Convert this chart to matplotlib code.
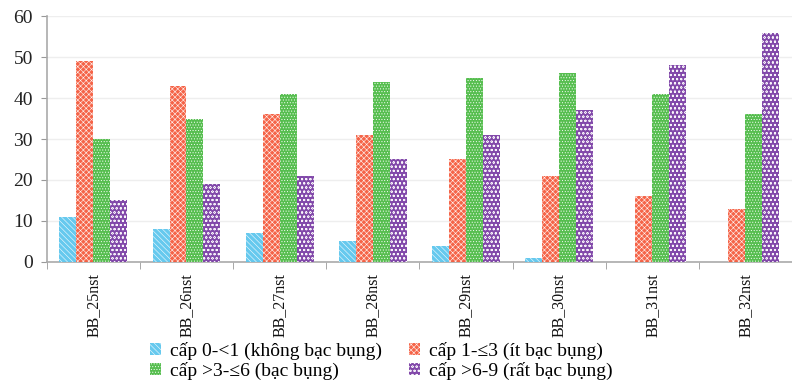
import matplotlib
matplotlib.use("Agg")
import matplotlib.pyplot as plt
import numpy as np

categories = ["BB_25nst", "BB_26nst", "BB_27nst", "BB_28nst", "BB_29nst", "BB_30nst", "BB_31nst", "BB_32nst"]
series_names = ["cấp 0-<1 (không bạc bụng)", "cấp 1-≤3 (ít bạc bụng)", "cấp >3-≤6 (bạc bụng)", "cấp >6-9 (rất bạc bụng)"]
cap0 = [11, 8, 7, 5, 4, 1, 0, 0]
cap1 = [49, 43, 36, 31, 25, 21, 16, 13]
cap3 = [30, 35, 41, 44, 45, 46, 41, 36]
cap6 = [15, 19, 21, 25, 31, 37, 48, 56]
yticks = [0, 10, 20, 30, 40, 50, 60]

colors = ["#5ec6ee", "#f55c3e", "#4dbb45", "#7b3fa6"]
hatches = ["\\\\\\\\\\\\", "xxxxxx", "......", "oooo"]

plt.rcParams['font.family'] = ['Liberation Serif', 'DejaVu Serif']
plt.rcParams['hatch.linewidth'] = 0.4

fig = plt.figure(figsize=(7.92, 3.84), dpi=100)
ax = fig.add_axes([0.059, 0.318, 0.941, 0.64])

x = np.arange(len(categories))
w = 0.182
data = [cap0, cap1, cap3, cap6]
handles = []
for i, (vals, c, h, name) in enumerate(zip(data, colors, hatches, series_names)):
    b = ax.bar(x + (i - 1.5) * w, vals, w, color=c, edgecolor="#ffffff", linewidth=0,
               hatch=h, label=name, zorder=3, alpha=0.95)
    handles.append(b)

ax.set_xlim(-0.5, 7.5)
ax.set_ylim(0, 60)
ax.set_yticks(yticks)
ax.set_yticklabels([str(v) for v in yticks], fontsize=14, color="#222222")
ax.set_xticks(x)
ax.set_xticklabels(categories, rotation=90, fontsize=11.5, color="#111111")
ax.tick_params(axis='x', length=0, pad=8)
ax.set_xticks(np.arange(-0.5, 8, 1), minor=True)
ax.tick_params(axis='x', which='minor', length=5, color="#999999")
ax.tick_params(axis='y', length=4, color="#999999", pad=6)

ax.grid(axis='y', color="#eeeeee", linewidth=1, zorder=0)
for s in ["top", "right"]:
    ax.spines[s].set_visible(False)
for s in ["left", "bottom"]:
    ax.spines[s].set_color("#aaaaaa")
    ax.spines[s].set_linewidth(1.2)

order = [0, 2, 1, 3]
fig.legend(handles=[handles[k] for k in order], labels=[series_names[k] for k in order],
           ncol=2, loc="upper left",
           bbox_to_anchor=(0.19, 0.11), frameon=False, fontsize=14,
           handlelength=0.55, handleheight=0.55, handletextpad=0.45,
           columnspacing=1.4, labelspacing=0.1, borderaxespad=0, borderpad=0)

fig.savefig("out.png", dpi=100)
